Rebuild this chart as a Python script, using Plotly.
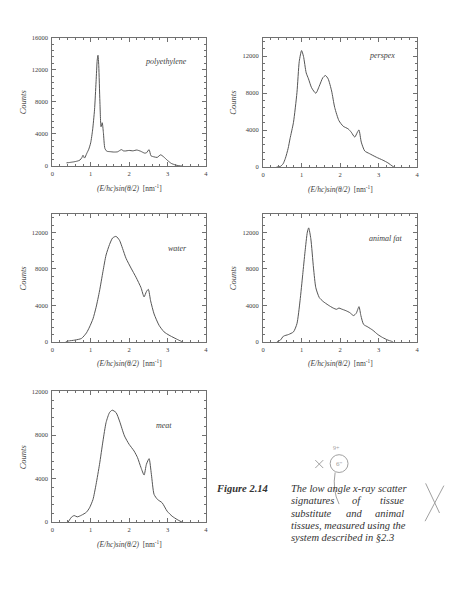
import plotly.graph_objects as go

# ---------------- data ----------------
poly_x = [0.37, 0.45, 0.55, 0.65, 0.72, 0.77, 0.80, 0.84, 0.90, 0.95, 1.00, 1.05, 1.10, 1.14, 1.17, 1.19, 1.21, 1.24, 1.27, 1.30, 1.33, 1.37,
          1.42, 1.50, 1.60, 1.70, 1.80, 1.85, 1.90, 2.00, 2.10, 2.20, 2.30, 2.40, 2.45, 2.52, 2.57, 2.65, 2.73, 2.82, 2.90, 3.00, 3.10, 3.20, 3.30, 3.40]
poly_y = [400, 450, 520, 620, 750, 1050, 1350, 1000, 1600, 2100, 2900, 4500, 7000, 10500, 13200, 13800, 12500, 8000, 4900, 5400, 4200, 2200,
          1850, 1800, 1750, 1780, 2050, 1900, 1880, 1950, 1900, 2000, 1850, 1620, 1650, 2050, 1280, 1150, 1080, 1400, 1150, 700, 330, 150, 40, 0]

persp_x = [0.35, 0.45, 0.52, 0.58, 0.65, 0.70, 0.79, 0.88, 0.94, 1.00, 1.05, 1.12, 1.18, 1.26, 1.37, 1.46, 1.55, 1.62, 1.69, 1.78, 1.86,
           1.97, 2.08, 2.21, 2.29, 2.38, 2.45, 2.49, 2.55, 2.64, 2.76, 2.94, 3.11, 3.24, 3.37, 3.40]
persp_y = [0, 70, 350, 950, 2000, 3060, 4840, 8050, 11430, 12600, 11970, 10190, 9540, 8580, 7980, 8760, 9650, 9900, 9540, 8230, 6450,
           5020, 4420, 4130, 3770, 3240, 3770, 4020, 2700, 1740, 1460, 1070, 750, 460, 70, 0]

water_x = [0.35, 0.41, 0.59, 0.76, 0.89, 0.97, 1.06, 1.14, 1.23, 1.32, 1.40, 1.49, 1.57, 1.66, 1.75, 1.83, 1.92, 2.05, 2.18, 2.31,
           2.39, 2.45, 2.50, 2.56, 2.65, 2.78, 2.91, 3.04, 3.17, 3.29, 3.38]
water_y = [0, 70, 180, 360, 970, 1620, 2515, 3770, 5570, 7725, 9520, 10670, 11390, 11570, 11140, 10240, 9160, 8085, 7080, 5930,
           4920, 5500, 5750, 4490, 3050, 1800, 1080, 720, 430, 180, 0]

fat_x = [0.36, 0.45, 0.53, 0.66, 0.79, 0.88, 0.96, 1.03, 1.09, 1.15, 1.185, 1.24, 1.31, 1.37, 1.46, 1.56, 1.69, 1.82, 1.91, 1.97,
         2.03, 2.15, 2.25, 2.35, 2.42, 2.49, 2.54, 2.61, 2.72, 2.85, 2.98, 3.10, 3.24, 3.37]
fat_y = [0, 180, 610, 790, 1080, 1980, 4490, 7370, 9880, 12040, 12500, 11320, 8085, 5930, 4850, 4420, 4030, 3700, 3560, 3700,
         3600, 3410, 3200, 2870, 3130, 3850, 2870, 1900, 1620, 1260, 790, 470, 180, 0]

meat_x = [0.41, 0.50, 0.57, 0.65, 0.76, 0.89, 0.97, 1.06, 1.14, 1.23, 1.32, 1.40, 1.49, 1.56, 1.66, 1.75, 1.88, 2.00, 2.13, 2.22,
          2.31, 2.39, 2.45, 2.52, 2.58, 2.65, 2.74, 2.86, 2.99, 3.12, 3.25, 3.38]
meat_y = [0, 460, 610, 490, 640, 920, 1320, 2085, 3470, 5310, 7450, 9140, 10060, 10280, 10060, 9290, 7910, 7150, 6530, 5920,
          5000, 4330, 5310, 5830, 4390, 2550, 2085, 1780, 1010, 550, 245, 0]

sample_names = ["polyethylene", "perspex", "water", "animal fat", "meat"]
y_max = [16000, 14000, 14000, 14000, 12000]
y_ticks = [[0, 4000, 8000, 12000, 16000], [0, 4000, 8000, 12000], [0, 4000, 8000, 12000], [0, 4000, 8000, 12000], [0, 4000, 8000, 12000]]
x_ticks = [0, 1, 2, 3, 4]
label_pos = [(2.97, 13050), (3.1, 12030), (3.27, 10230), (3.17, 11310), (2.9, 8900)]

series = [(poly_x, poly_y), (persp_x, persp_y), (water_x, water_y), (fat_x, fat_y), (meat_x, meat_y)]

caption_lines = [
    ["The low angle x-ray scatter"],
    ["signatures", "of", "tissue"],
    ["substitute", "and", "animal"],
    ["tissues, measured using the"],
    ["system described in §2.3"],
]

# ---------------- layout geometry (pixels) ----------------
W, H = 468, 601
panels_px = [  # left, right, top, bottom
    (50.7, 205.7, 34, 164),
    (263.3, 418.7, 34, 165),
    (50.7, 205.7, 212.7, 341.7),
    (263.3, 418.7, 212.7, 341.7),
    (50.7, 205.7, 392, 524.3),
]

SERIF = "Liberation Serif, Times New Roman, serif"
LINE_C = "#555555"
AX_C = "#707070"
TXT_C = "#404040"

fig = go.Figure()
layout = dict(
    width=W, height=H, margin=dict(l=0, r=0, t=0, b=0),
    paper_bgcolor="white", plot_bgcolor="white", showlegend=False,
    font=dict(family=SERIF, color=TXT_C, size=7),
)
annotations = []
shapes = []

def px(x):
    return x / W

def py(y):
    return 1 - y / H

def ann(x, y, text, size, color=TXT_C, xanchor="center", angle=0, xref="paper", yref="paper"):
    annotations.append(dict(x=x, y=y, xref=xref, yref=yref, text=text, showarrow=False,
                            xanchor=xanchor, yanchor="middle", textangle=angle,
                            font=dict(family=SERIF, size=size, color=color)))

for i, ((xs, ys), (l, r, t, b)) in enumerate(zip(series, panels_px)):
    n = "" if i == 0 else str(i + 1)
    xa, ya = "x" + n, "y" + n
    fig.add_trace(go.Scatter(x=xs, y=ys, mode="lines", line=dict(color=LINE_C, width=1, shape="spline", smoothing=0.6),
                             xaxis=xa, yaxis=ya, hoverinfo="skip"))
    common = dict(showgrid=False, zeroline=False, showline=True, linecolor=AX_C, linewidth=1, mirror="ticks",
                  ticks="inside", ticklen=4, tickwidth=0.8, tickcolor=AX_C,
                  tickfont=dict(family=SERIF, size=6.5, color=TXT_C))
    layout["xaxis" + n] = dict(domain=[px(l), px(r)], range=[0, 4], anchor=ya, tickvals=x_ticks,
                               minor=dict(dtick=0.2, ticklen=2, tickcolor=AX_C, ticks="inside", showgrid=False),
                               ticklabelstandoff=1, **common)
    layout["yaxis" + n] = dict(domain=[py(b), py(t)], range=[0, y_max[i]], anchor=xa, tickvals=y_ticks[i],
                               tickformat="d", ticklabelstandoff=2,
                               minor=dict(dtick=800, ticklen=2, tickcolor=AX_C, ticks="inside", showgrid=False),
                               **common)
    # sample label
    ann(label_pos[i][0], label_pos[i][1], "<i>%s</i>" % sample_names[i], 8, xref=xa, yref=ya)
    # y title
    ann(px(l - 30), py((t + b) / 2), "<i>Counts</i>", 8.5, angle=-90)
    # x title
    ann(px((l + r) / 2), py(b + 22), "<i>(E/hc)sin(θ/2)</i>  [nm<sup>-1</sup>]", 7.5)

# caption
CAP_C = "#333333"
ann(px(270), py(490), "<b><i>Figure 2.14</i></b>", 10.5, color=CAP_C, xanchor="right")
line_y = [490, 502.5, 515, 527.3, 539.5]
cap_l, cap_r = 289.7, 407.3
mids = {"of": 358.3, "and": 355.7}
for words, yy in zip(caption_lines, line_y):
    if len(words) == 1:
        ann(px(cap_l), py(yy), "<i>%s</i>" % words[0], 10.5, color=CAP_C, xanchor="left")
    else:
        for w, a in zip(words, ["left", "center", "right"]):
            xx = cap_l if a == "left" else (cap_r if a == "right" else mids.get(w, (cap_l + cap_r) / 2))
            ann(px(xx), py(yy), "<i>%s</i>" % w, 10.5, color=CAP_C, xanchor=a)

# handwritten pencil marks
PEN = "#a0a0a0"
def seg(x0, y0, x1, y1):
    shapes.append(dict(type="line", xref="paper", yref="paper", x0=px(x0), y0=py(y0), x1=px(x1), y1=py(y1),
                       line=dict(color=PEN, width=1)))
seg(316, 461.5, 324, 469.5)
seg(316, 469.5, 324, 461.5)
shapes.append(dict(type="circle", xref="paper", yref="paper", x0=px(331), x1=px(349), y0=py(474), y1=py(456),
                   line=dict(color=PEN, width=1)))
shapes.append(dict(type="path", xref="paper", yref="paper",
                   path="M %f %f Q %f %f %f %f" % (px(336), py(474), px(333), py(492), px(340), py(506)),
                   line=dict(color=PEN, width=1)))
ann(px(340), py(465), '6"', 7, color=PEN)
ann(px(337), py(449), "9+", 6, color=PEN)
seg(427.3, 485, 441.3, 515)
seg(445.7, 487.3, 426.7, 523.3)

layout["annotations"] = annotations
layout["shapes"] = shapes
fig.update_layout(**layout)
fig.write_html("out.html")
